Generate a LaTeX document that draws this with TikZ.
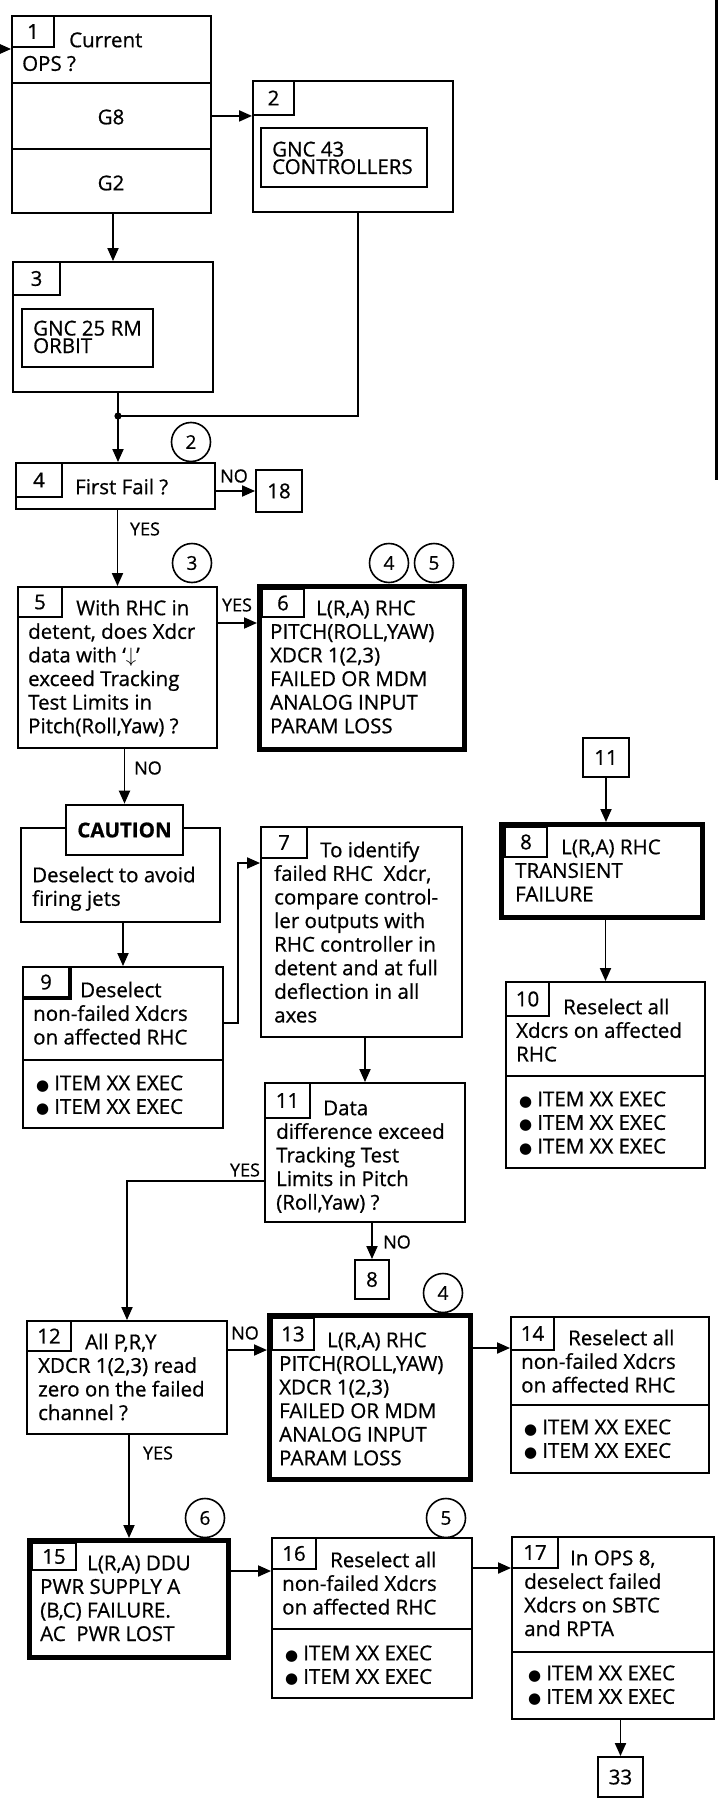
\documentclass[tikz,border=0pt]{standalone}
\usepackage{fontspec}
\setmainfont{Open Sans}[FakeBold=0.7]
\newfontfamily\dejavu{DejaVu Sans}
\usetikzlibrary{arrows.meta,calc}
\newcommand\fs{\fontsize{20.5}{23.6}\selectfont}
\newcommand\bul{{\dejavu\fontsize{15}{15}\selectfont ●}\hspace{5pt}}
% \bx[style]{name}{x1}{y1}{x2}{y2}{text}
\newcommand\bx[7][box]{\node[#1, minimum width={#5-#3}, minimum height={#6-#4}] (#2) at ({(#3+#5)/2},{(#4+#6)/2}) {#7};}
\begin{document}
\begin{tikzpicture}[x=1pt,y=-1pt,
  every node/.append style={font=\fs},
  box/.style={draw, line width=1.9pt, inner sep=0pt, fill=white},
  tbox/.style={draw, line width=5pt, inner sep=0pt, fill=white},
  tab/.style={draw, line width=1.9pt, inner sep=0pt},
  cbox/.style={draw, line width=2.6pt, inner sep=0pt, fill=white, font=\fs\bfseries},
  txt/.style={anchor=north west, inner sep=0pt, align=left},
  gtxt/.style={anchor=base west, inner sep=0pt, align=left, font=\fontsize{20.5}{17.5}\selectfont},
  lbl/.style={inner sep=0pt, font=\fontsize{18}{20}\selectfont},
  circ/.style={draw, circle, line width=1.6pt, minimum size=39pt, inner sep=0pt, fill=white, font=\fontsize{19}{20}\selectfont},
  ln/.style={line width=1.9pt},
  arr/.style={line width=1.9pt, -{Triangle[length=13pt,width=11pt]}}]
\useasboundingbox (0,0) rectangle (718,1798);

% change bar on the right
\coordinate (rb1) at (716,0);
\coordinate (rb2) at (716,480);
\draw[line width=3pt] (rb1) -- (rb2);

% ---- Box 1
\bx{b1}{12}{16}{211}{213}{}
\draw[line width=2.6pt] (12,83) -- (211,83);
\draw[line width=2.6pt] (12,149) -- (211,149);
\bx[tab]{t1}{12}{16}{54}{47}{1}
\node[txt] (b1t) at (22,30.5) {\strut\hspace*{47pt}Current\\OPS ?};
\node (g8) at (111,117) {G8};
\node (g2) at (111,183) {G2};
\coordinate (in) at (0,49);
\draw[arr] (in) -- (in -| b1.west);

% ---- Box 2
\bx{b2}{253}{81}{453}{212}{}
\bx[tab]{t2}{253}{81}{294}{115}{2}
\bx{b2i}{261}{128}{427}{187}{}
\node[gtxt] (b2t) at (272,174) {GNC 43\\CONTROLLERS};
\draw[arr] (b1.east |- t2.south) -- (t2.south west);

% ---- Box 3
\bx{b3}{13}{262}{213}{392}{}
\bx[tab]{t3}{13}{262}{60}{295}{3}
\bx{b3i}{22}{309}{153}{367}{}
\node[gtxt] (b3t) at (33,353) {GNC 25 RM\\ORBIT};
\draw[arr] (b3.north |- b1.south) -- (b3.north);

% ---- junction
\coordinate (j) at (118,416);
\draw[ln] ($(b2.south)+(5,0)$) |- (j);
\draw[ln] (b3.south -| j) -- (j);
\fill (j) circle (3.6);

% ---- Box 4
\bx{b4}{16}{463}{215}{509}{}
\bx[tab]{t4}{16}{463}{62}{497}{4}
\node[txt] (b4t) at (75,477.5) {\strut First Fail ?};
\draw[arr] (j) -- (j |- b4.north);
\node[circ] (c2) at (191,442) {2};
\bx{b18}{256}{470}{302}{512}{18}
\draw[arr] (b4.east |- b18.west) -- (b18.west);
\node[lbl] (no1) at (234,476) {NO};

% ---- Box 5
\bx{b5}{18}{587}{217}{748}{}
\bx[tab]{t5}{18}{587}{62}{617}{5}
\node[txt] (b5t) at (28,598.5) {\strut\hspace*{48pt}With RHC in\\detent, does Xdcr\\data with `$\downarrow$'\\exceed Tracking\\Test Limits in\\Pitch(Roll,Yaw) ?};
\draw[arr] (b5.north |- b4.south) -- (b5.north);
\node[lbl] (yes1) at (145,529) {YES};
\node[circ] (c3) at (192,563) {3};

% ---- Box 6
\bx[tbox]{b6}{259.5}{586.5}{464.5}{749.5}{}
\bx[tab]{t6}{262}{589}{304}{617}{6}
\node[txt] (b6t) at (270,598.5) {\strut\hspace*{46pt}L(R,A) RHC\\PITCH(ROLL,YAW)\\XDCR 1(2,3)\\FAILED OR MDM\\ANALOG INPUT\\PARAM LOSS};
\draw[arr] ($(b5.east)+(0,-44.5)$) -- ($(b6.west)+(0,-45)$);
\node[lbl] (yes2) at (237,605) {YES};
\node[circ] (c4a) at (389,563) {4};
\node[circ] (c5a) at (434,563) {5};

% ---- Caution box
\bx{bc}{21}{828}{220}{922}{}
\bx[cbox]{cau}{66}{805}{183}{855}{CAUTION}
\node[txt] (bct) at (32,865.5) {\strut Deselect to avoid\\firing jets};
\draw[arr] (cau.north |- b5.south) -- (cau.north);
\node[lbl] (no2) at (148,768) {NO};

% ---- Box 9
\bx{b9}{23}{967}{223}{1128}{}
\draw[ln] (23,1060) -- (223,1060);
\bx[tab]{t9}{23}{967}{69}{997}{9}
\draw[line width=4pt] (t9.north east) -- (t9.south east) -- (t9.south west);
\node[txt] (b9t) at (33,980.5) {\strut\hspace*{47pt}Deselect\\non-failed Xdcrs\\on affected RHC};
\node[txt] (b9b) at (36,1073.5) {\strut\bul ITEM XX EXEC\\\bul ITEM XX EXEC};
\draw[arr] (b9.north |- bc.south) -- (b9.north);

% ---- Box 7
\bx{b7}{261}{827}{462}{1037}{}
\bx[tab]{t7}{261}{827}{307}{858}{7}
\node[txt] (b7t) at (274,840.5) {\strut\hspace*{46pt}To identify\\failed RHC\ \ Xdcr,\\compare control-\\ler outputs with\\RHC controller in\\detent and at full\\deflection in all\\axes};
\draw[arr] ($(b9.east)+(0,-24.5)$) -- ++(14,0) |- ($(b7.west)+(0,-69)$);

% ---- Box 11
\bx{b11}{265}{1083}{465}{1222}{}
\bx[tab]{t11}{265}{1083}{310}{1118}{11}
\node[txt] (b11t) at (276,1098.5) {\strut\hspace*{47pt}Data\\difference exceed\\Tracking Test\\Limits in Pitch\\(Roll,Yaw) ?};
\draw[arr] (b11.north |- b7.south) -- (b11.north);

% ---- to 8
\bx{r8}{355}{1260}{389}{1299}{8}
\draw[arr] (r8.north |- b11.south) -- (r8.north);
\node[lbl] (no3) at (397,1242) {NO};

% ---- Right column: 11 -> 8 -> 10
\bx{r11}{583}{738}{629}{777}{11}
\bx[tbox]{b8}{501.5}{824.5}{702.5}{917.5}{}
\bx[tab]{t8}{505}{827}{547}{857}{8}
\node[txt] (b8t) at (515,837.5) {\strut\hspace*{46pt}L(R,A) RHC\\TRANSIENT\\FAILURE};
\draw[arr] (r11.south) -- (r11.south |- b8.north);

\bx{b10}{506}{982}{705}{1168}{}
\draw[ln] (506,1076) -- (705,1076);
\bx[tab]{t10}{506}{982}{549}{1016}{10}
\node[txt] (b10t) at (516,997.5) {\strut\hspace*{47pt}Reselect all\\Xdcrs on affected\\RHC};
\node[txt] (b10b) at (519,1089.5) {\strut\bul ITEM XX EXEC\\\bul ITEM XX EXEC\\\bul ITEM XX EXEC};
\draw[arr] (b10.north |- b8.south) -- (b10.north);

% ---- Box 12
\bx{b12}{27}{1321}{227}{1434}{}
\bx[tab]{t12}{27}{1321}{71}{1351}{12}
\node[txt] (b12t) at (38,1332.5) {\strut\hspace*{47pt}All P,R,Y\\XDCR 1(2,3) read\\zero on the failed\\channel ?};
\draw[arr] ($(b11.west)+(0,28.5)$) -| (b12.north);
\node[lbl] (yes3) at (245,1170) {YES};

% ---- Box 13
\bx[tbox]{b13}{269.5}{1315.5}{470.5}{1479.5}{}
\bx[tab]{t13}{272}{1318}{314}{1350}{13}
\node[txt] (b13t) at (279,1330.5) {\strut\hspace*{48pt}L(R,A) RHC\\PITCH(ROLL,YAW)\\XDCR 1(2,3)\\FAILED OR MDM\\ANALOG INPUT\\PARAM LOSS};
\draw[arr] ($(b12.east)+(0,-27.5)$) -- ($(b13.west)+(0,-47.5)$);
\node[lbl] (no4) at (245,1333) {NO};
\node[circ] (c4b) at (443,1293) {4};

% ---- Box 14
\bx{b14}{511}{1317}{709}{1473}{}
\draw[ln] (511,1405) -- (709,1405);
\bx[tab]{t14}{511}{1317}{554}{1350}{14}
\node[txt] (b14t) at (521,1328.5) {\strut\hspace*{47pt}Reselect all\\non-failed Xdcrs\\on affected RHC};
\node[txt] (b14b) at (524,1417.5) {\strut\bul ITEM XX EXEC\\\bul ITEM XX EXEC};
\draw[arr] ($(b13.east)+(0,-49.5)$) -- ($(b14.west)+(0,-47)$);

% ---- Box 15
\bx[tbox]{b15}{29.5}{1540.5}{228.5}{1657.5}{}
\bx[tab]{t15}{32}{1543}{76}{1570}{15}
\node[txt] (b15t) at (40,1553.5) {\strut\hspace*{47pt}L(R,A) DDU\\PWR SUPPLY A\\(B,C) FAILURE.\\AC\ \ PWR LOST};
\draw[arr] (b15.north |- b12.south) -- (b15.north);
\node[lbl] (yes4) at (158,1453) {YES};
\node[circ] (c6) at (205,1518) {6};

% ---- Box 16
\bx{b16}{272}{1538}{472}{1698}{}
\draw[ln] (272,1629) -- (472,1629);
\bx[tab]{t16}{272}{1538}{316}{1569}{16}
\node[txt] (b16t) at (282,1550.5) {\strut\hspace*{48pt}Reselect all\\non-failed Xdcrs\\on affected RHC};
\node[txt] (b16b) at (285,1643.5) {\strut\bul ITEM XX EXEC\\\bul ITEM XX EXEC};
\draw[arr] ($(b15.east)+(0,-28)$) -- ($(b16.west)+(0,-47)$);
\node[circ] (c5b) at (446,1518) {5};

% ---- Box 17
\bx{b17}{512}{1537}{714}{1719}{}
\draw[ln] (512,1652) -- (714,1652);
\bx[tab]{t17}{512}{1537}{558}{1568}{17}
\node[txt] (b17t) at (524,1548.5) {\strut\hspace*{46pt}In OPS 8,\\deselect failed\\Xdcrs on SBTC\\and RPTA};
\node[txt] (b17b) at (528,1663.5) {\strut\bul ITEM XX EXEC\\\bul ITEM XX EXEC};
\draw[arr] ($(b16.east)+(0,-50)$) -- ($(b17.west)+(0,-60)$);

\bx{r33}{598}{1757}{643}{1797}{33}
\draw[arr] (r33.north |- b17.south) -- (r33.north);
\end{tikzpicture}
\end{document}
